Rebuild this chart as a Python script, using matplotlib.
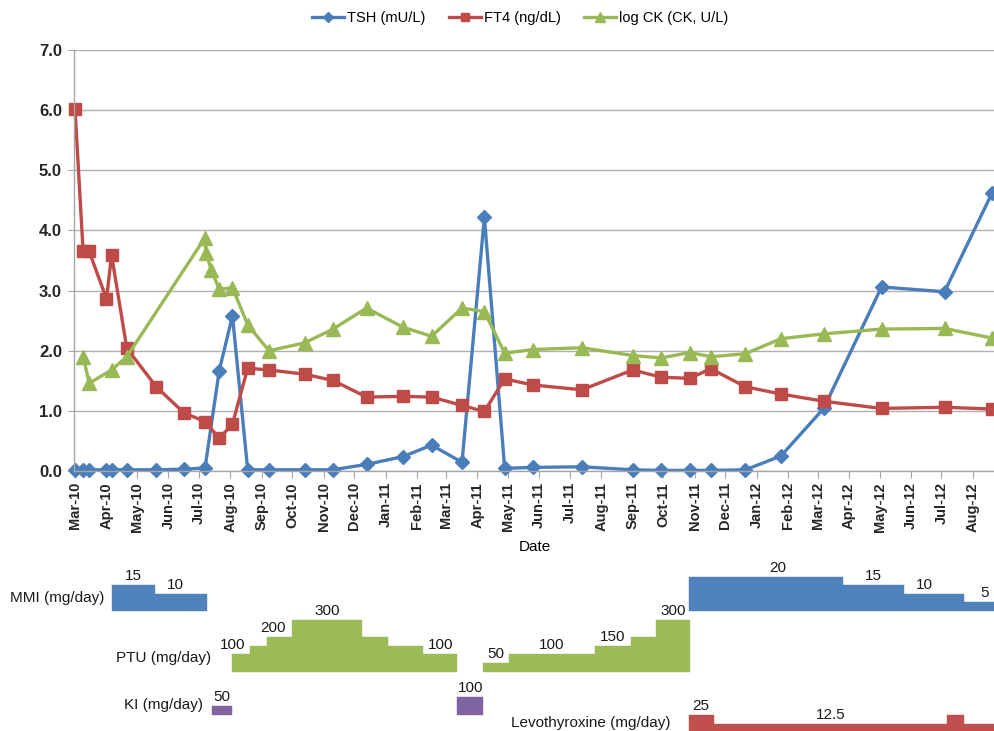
import numpy as np
import matplotlib
matplotlib.use("Agg")
from matplotlib import pyplot as plt
import matplotlib.dates as mdates
from matplotlib.ticker import FormatStrFormatter

plt.rcParams['font.family'] = ['Liberation Sans', 'DejaVu Sans']

# lab values
lab_dates = ["2010-03-01", "2010-03-09", "2010-03-15", "2010-04-01", "2010-04-06",
             "2010-04-21", "2010-05-20", "2010-06-16", "2010-07-07", "2010-07-21",
             "2010-08-03", "2010-08-18", "2010-09-08", "2010-10-13", "2010-11-10",
             "2010-12-13", "2011-01-18", "2011-02-15", "2011-03-17", "2011-04-08",
             "2011-04-28", "2011-05-26", "2011-07-13", "2011-09-01", "2011-09-29",
             "2011-10-27", "2011-11-17", "2011-12-21", "2012-01-25", "2012-03-07",
             "2012-05-03", "2012-07-04", "2012-08-20"]
tsh = [0.02, 0.02, 0.02, 0.02, 0.02, 0.02, 0.02, 0.03, 0.05, 1.67,
       2.58, 0.02, 0.02, 0.02, 0.02, 0.11, 0.24, 0.43, 0.145, 4.22,
       0.045, 0.06, 0.07, 0.02, 0.01, 0.01, 0.01, 0.02, 0.25, 1.04,
       3.06, 2.98, 4.63]
ft4 = [6.02, 3.65, 3.65, 2.86, 3.59, 2.04, 1.40, 0.97, 0.82, 0.545,
       0.78, 1.71, 1.68, 1.61, 1.505, 1.23, 1.24, 1.23, 1.09, 0.99,
       1.53, 1.43, 1.35, 1.68, 1.56, 1.54, 1.70, 1.40, 1.28, 1.16,
       1.04, 1.06, 1.03]
ck_dates = ["2010-03-09", "2010-03-15", "2010-04-06", "2010-04-21", "2010-07-07",
            "2010-07-08", "2010-07-13", "2010-07-21", "2010-08-03", "2010-08-18",
            "2010-09-08", "2010-10-13", "2010-11-10", "2010-12-13", "2011-01-18",
            "2011-02-15", "2011-03-17", "2011-04-08", "2011-04-28", "2011-05-26",
            "2011-07-13", "2011-09-01", "2011-09-29", "2011-10-27", "2011-11-17",
            "2011-12-21", "2012-01-25", "2012-03-07", "2012-05-03", "2012-07-04",
            "2012-08-20"]
log_ck = [1.90, 1.46, 1.68, 1.90, 3.88, 3.63, 3.35, 3.02, 3.05, 2.43,
          2.00, 2.13, 2.36, 2.71, 2.39, 2.24, 2.71, 2.65, 1.96, 2.02,
          2.05, 1.92, 1.88, 1.97, 1.90, 1.95, 2.20, 2.28, 2.36, 2.37,
          2.21]

# drug doses (mg/day)
mmi_start = ["2010-04-06", "2010-05-19", "2011-10-26", "2012-03-26", "2012-05-25", "2012-07-23"]
mmi_end = ["2010-05-19", "2010-07-09", "2012-03-26", "2012-05-25", "2012-07-23", "2012-09-01"]
mmi_dose = [15, 10, 20, 15, 10, 5]
ptu_start = ["2010-08-03", "2010-08-20", "2010-09-06", "2010-10-01", "2010-12-09", "2011-01-03",
             "2011-02-07", "2011-04-07", "2011-05-02", "2011-07-26", "2011-08-30", "2011-09-24"]
ptu_end = ["2010-08-20", "2010-09-06", "2010-10-01", "2010-12-09", "2011-01-03", "2011-02-07",
           "2011-03-12", "2011-05-02", "2011-07-26", "2011-08-30", "2011-09-24", "2011-10-27"]
ptu_dose = [100, 150, 200, 300, 200, 150, 100, 50, 100, 150, 200, 300]
ki_start = ["2010-07-14", "2011-03-12"]
ki_end = ["2010-08-03", "2011-04-07"]
ki_dose = [50, 100]
levo_start = ["2011-10-26", "2011-11-20", "2012-07-06", "2012-07-23"]
levo_end = ["2011-11-20", "2012-07-06", "2012-07-23", "2012-09-01"]
levo_dose = [25, 12.5, 25, 12.5]


def dnum(lst):
    return mdates.date2num(np.array(lst, dtype="datetime64[D]"))


W, H = 995, 731
fig = plt.figure(figsize=(W / 100, H / 100), dpi=100)

# main chart
L = 74.5 / W
ax = fig.add_axes([L, 1 - 471 / H, 1 - L, 421 / H])
ax.plot(dnum(lab_dates), tsh, color="#4A7EBB", lw=2.4, marker="D", ms=7.5,
        label="TSH (mU/L)", clip_on=False)
ax.plot(dnum(lab_dates), ft4, color="#BE4B48", lw=2.4, marker="s", ms=8.5,
        label="FT4 (ng/dL)", clip_on=False)
ax.plot(dnum(ck_dates), log_ck, color="#98B954", lw=2.4, marker="^", ms=9.5,
        label="log CK (CK, U/L)", clip_on=False)

x0 = mdates.date2num(np.datetime64("2010-03-01"))
ax.set_xlim(x0 - 0.5, x0 + 905.7)
ax.set_ylim(0, 7)
ax.set_yticks(np.arange(0, 8, 1))
ax.yaxis.set_major_formatter(FormatStrFormatter("%.1f"))
ax.xaxis.set_major_locator(mdates.MonthLocator())
ax.xaxis.set_major_formatter(mdates.DateFormatter("%b-%y"))
ax.grid(axis="y", color="#B0B0B0", lw=1)
ax.set_axisbelow(True)
for s in ["top", "right"]:
    ax.spines[s].set_visible(False)
for s in ["left", "bottom"]:
    ax.spines[s].set_color("#A6A6A6")
    ax.spines[s].set_linewidth(1)
ax.tick_params(axis="x", rotation=90, length=5, color="#A6A6A6", pad=3, labelsize=10.5)
ax.tick_params(axis="y", length=4, color="#A6A6A6", pad=5, labelsize=12)
for t in ax.get_xticklabels() + ax.get_yticklabels():
    t.set_fontweight("bold")
    t.set_color("#262626")
ax.set_xlabel("Date", fontsize=11, labelpad=6)

ax.legend(loc="center", bbox_to_anchor=(520 / W, 1 - 18 / H), bbox_transform=fig.transFigure,
          ncol=3, frameon=False, numpoints=1, handlelength=2.2, columnspacing=1.6,
          handletextpad=0.2, prop={"size": 10.5}, markerscale=0.7)

# drug panel
bax = fig.add_axes([L, 0, 1 - L, 171 / H], sharex=ax)
bax.set_ylim(0, 171)
bax.axis("off")

rows = [
    (mmi_start, mmi_end, mmi_dose, 120, 1.71, "#4F81BD", [0, 1, 2, 3, 4, 5]),
    (ptu_start, ptu_end, ptu_dose, 59.3, 0.173, "#9BBB59", [0, 2, 3, 6, 7, 8, 9, 11]),
    (ki_start, ki_end, ki_dose, 16, 0.177, "#8064A2", [0, 1]),
    (levo_start, levo_end, levo_dose, -2, 0.72, "#C0504D", [0, 1]),
]
# small horizontal nudges (px) for some dose labels
nudge = {(0, 1): -6, (0, 2): 12, (0, 4): -9, (1, 0): -8, (1, 2): -7}

for r, (st, en, dose, base, scale, col, shown) in enumerate(rows):
    s = dnum(st)
    e = dnum(en)
    h = np.array(dose) * scale
    bax.bar(s, h, width=e - s, bottom=base, align="edge", color=col,
            edgecolor=col, lw=0.3)
    for i in shown:
        mid = (s[i] + e[i]) / 2
        dx = nudge.get((r, i), 0) * 0.72
        bax.annotate(f"{dose[i]:g}", (mid, base + h[i]), xytext=(dx, 1.5),
                     textcoords="offset points", ha="center", va="bottom",
                     fontsize=11, color="#1a1a1a", annotation_clip=False)

row_labels = ["MMI (mg/day)", "PTU (mg/day)", "KI (mg/day)", "Levothyroxine (mg/day)"]
label_pos = [(104, 598), (211, 658), (203, 705), (671, 723)]
for txt, (px, py) in zip(row_labels, label_pos):
    fig.text(px / W, 1 - py / H, txt, ha="right", va="center", fontsize=11, color="#1a1a1a")

fig.savefig("out.png", dpi=100)
